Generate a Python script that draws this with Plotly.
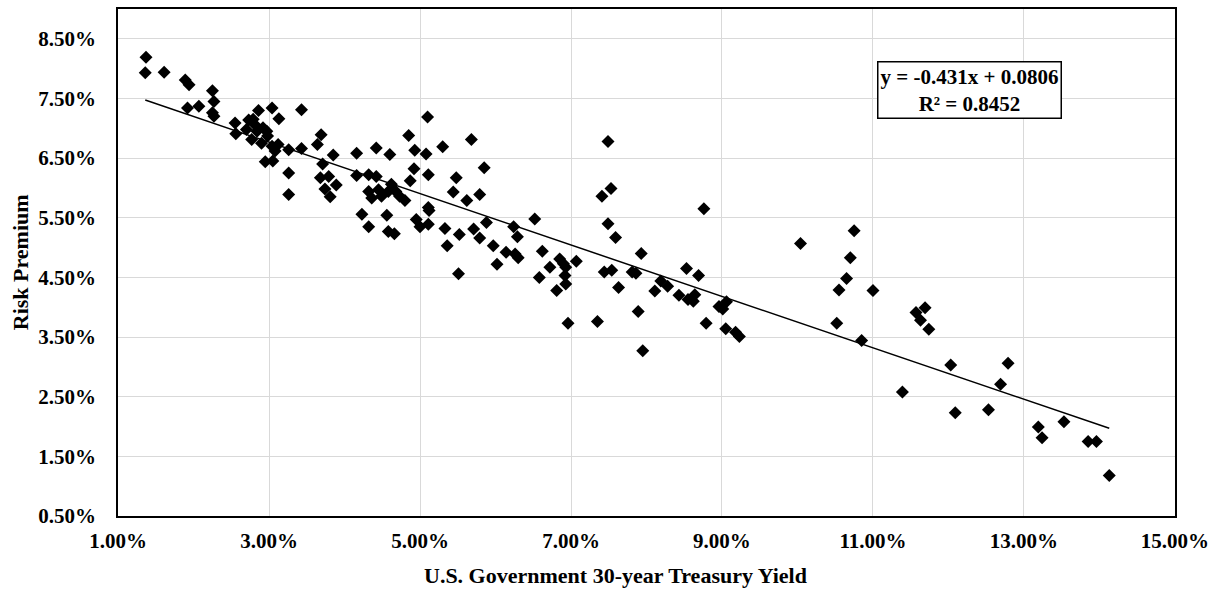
import numpy as np
import plotly.graph_objects as go

# U.S. Government 30-year Treasury Yield (%)
treasury_yield_pct = [
    1.37, 1.36, 1.61, 1.89, 1.94, 2.25, 2.27, 1.92, 2.07, 2.25, 2.27, 2.55, 2.56,
    2.86, 3.04, 2.73, 2.79, 2.92, 2.70, 2.84, 2.97, 2.77, 2.90, 3.04, 3.13, 3.43,
    3.12, 3.26, 3.43, 2.95, 3.05, 3.26, 3.26, 3.69, 3.64, 3.85, 3.71, 3.68, 3.79,
    3.89, 3.74, 3.81, 2.82, 2.98, 3.08,
    4.16, 4.42, 4.60, 4.85, 5.10, 4.93, 5.08, 5.30, 5.68, 4.92, 5.11, 4.87, 4.16,
    4.32, 4.42, 4.32, 4.36, 4.45, 4.49, 4.62, 4.58, 4.68, 4.73, 4.80, 5.48, 5.85,
    5.44, 5.62, 5.79, 4.23, 4.32, 4.56, 4.58, 4.66, 4.95, 5.00, 5.11, 5.12, 5.11,
    5.33, 5.52, 5.71, 5.88, 5.79, 5.36, 5.97, 5.51, 6.02,
    6.24, 6.29, 6.52, 6.14, 6.26, 6.30, 6.62, 6.72, 6.58, 6.85, 6.90, 6.93, 7.07,
    6.92, 6.93, 6.81, 7.49, 7.41, 7.53, 7.49, 7.59, 7.44, 7.54, 7.63, 7.93, 7.81,
    7.86, 8.11,
    8.76, 10.04, 7.89, 6.96, 7.35, 7.95, 8.19, 8.28, 8.43, 8.55, 8.62, 8.64, 8.53,
    8.69, 8.79, 8.96, 9.01, 9.06, 9.05, 9.18, 9.23,
    10.75, 10.70, 10.65, 10.55, 11.00, 10.52, 10.85, 11.57, 11.69, 11.63, 11.74,
    12.03, 12.79, 12.69, 11.39, 12.09, 12.53,
    13.19, 13.24, 13.53, 13.85, 13.96, 14.13,
]

# Risk Premium (%)
risk_premium_pct = [
    8.19, 7.93, 7.94, 7.81, 7.73, 7.63, 7.45, 7.34, 7.37, 7.26, 7.20, 7.09, 6.91,
    7.30, 7.34, 7.14, 7.15, 7.01, 6.98, 6.95, 6.95, 6.81, 6.75, 6.70, 7.16, 7.31,
    6.73, 6.64, 6.66, 6.44, 6.45, 6.25, 5.89, 6.89, 6.73, 6.55, 6.40, 6.17, 6.19,
    6.05, 5.98, 5.85, 7.05, 6.87, 6.62,
    6.58, 6.67, 6.56, 6.88, 7.19, 6.63, 6.57, 6.69, 6.81, 6.32, 6.22, 6.12, 6.21,
    6.22, 6.19, 5.94, 5.83, 5.97, 5.86, 6.06, 5.94, 5.94, 5.86, 5.79, 6.17, 6.34,
    5.93, 5.79, 5.89, 5.56, 5.35, 5.54, 5.27, 5.23, 5.47, 5.35, 5.67, 5.62, 5.39,
    5.32, 5.22, 5.31, 5.42, 5.16, 5.03, 5.03, 4.56, 4.72,
    5.35, 5.18, 5.48, 4.92, 4.89, 4.83, 4.94, 4.67, 4.50, 4.81, 4.73, 4.67, 4.77,
    4.53, 4.39, 4.28, 6.78, 5.86, 5.99, 5.40, 5.17, 4.59, 4.62, 4.33, 4.90, 4.59,
    4.57, 4.27,
    5.65, 5.07, 3.93, 3.73, 3.76, 3.27, 4.44, 4.35, 4.20, 4.13, 4.10, 4.21, 4.65,
    4.53, 3.73, 4.01, 3.97, 4.09, 3.64, 3.58, 3.51,
    5.28, 4.83, 4.48, 4.29, 4.28, 3.73, 3.44, 3.91, 3.99, 3.78, 3.63,
    3.03, 3.06, 2.71, 2.58, 2.23, 2.28,
    1.99, 1.81, 2.08, 1.75, 1.75, 1.18,
]

# Linear trendline as reported on the chart
trend_slope = -0.431
trend_intercept = 0.0806
r_squared = 0.8452

x_tick_values = [0.01, 0.03, 0.05, 0.07, 0.09, 0.11, 0.13, 0.15]
y_tick_values = [0.005, 0.015, 0.025, 0.035, 0.045, 0.055, 0.065, 0.075, 0.085]

x_title = "U.S. Government 30-year Treasury Yield"
y_title = "Risk Premium"

x = np.array(treasury_yield_pct) / 100.0
y = np.array(risk_premium_pct) / 100.0

trend_x = np.array([x.min(), x.max()])
trend_y = trend_slope * trend_x + trend_intercept

FONT = "Liberation Serif, Times New Roman, serif"

fig = go.Figure()
fig.add_trace(go.Scatter(
    x=x, y=y, mode="markers",
    marker=dict(symbol="diamond", size=10, color="black", line=dict(width=0)),
    showlegend=False, hoverinfo="x+y",
))
fig.add_trace(go.Scatter(
    x=trend_x, y=trend_y, mode="lines",
    line=dict(color="black", width=1.5),
    showlegend=False, hoverinfo="skip",
))

axis_common = dict(
    showline=True, mirror=True, linecolor="black", linewidth=1.5,
    showgrid=True, gridcolor="#d9d9d9", gridwidth=1,
    zeroline=False, tickformat=".2%",
    ticks="outside", tickcolor="rgba(0,0,0,0)",
    tickfont=dict(family=FONT, size=21, color="black", weight="bold"),
)

fig.update_xaxes(range=[0.00999, 0.15001], tickvals=x_tick_values, ticklen=5, **axis_common)
fig.update_yaxes(range=[0.00499, 0.09], tickvals=y_tick_values, ticklen=16, **axis_common)

eq_text = f"y = {trend_slope}x + {trend_intercept}<br>R² = {r_squared}"

fig.update_layout(
    width=1227, height=590,
    margin=dict(l=118, r=52, t=7, b=74),
    paper_bgcolor="white", plot_bgcolor="white",
    annotations=[
        dict(text=eq_text, xref="paper", yref="paper", x=0.806, y=0.841,
             xanchor="center", yanchor="middle", showarrow=False,
             font=dict(family=FONT, size=21, color="black", weight="bold"),
             bgcolor="white", bordercolor="black", borderwidth=1.5, borderpad=2,
             align="center"),
        dict(text=x_title, xref="paper", yref="paper", x=0.471, y=-0.118,
             xanchor="center", yanchor="middle", showarrow=False,
             font=dict(family=FONT, size=22, color="black", weight="bold")),
        dict(text=y_title, xref="paper", yref="paper", x=-0.092, y=0.5,
             xanchor="center", yanchor="middle", showarrow=False, textangle=-90,
             font=dict(family=FONT, size=22, color="black", weight="bold")),
    ],
)

fig.write_html("out.html")
